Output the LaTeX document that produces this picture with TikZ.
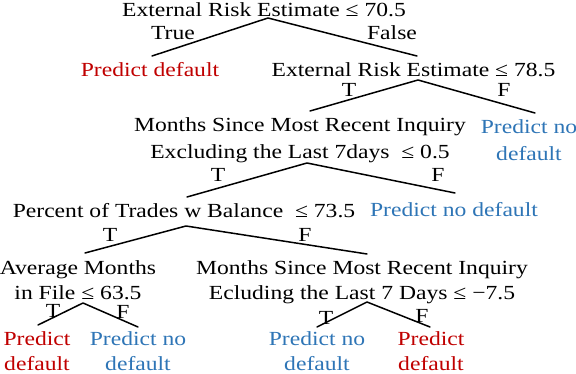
\documentclass[tikz,border=0pt]{standalone}
\usepackage{fontspec}
\setmainfont{Liberation Serif}[FakeStretch=1.18]
\definecolor{predred}{RGB}{192,0,0}
\definecolor{predblue}{RGB}{46,117,182}
\tikzset{
  split/.style={inner sep=0pt, align=center},
  leafyes/.style={split, text=predred},
  leafno/.style={split, text=predblue},
  tight/.style={font=\fontsize{20}{25}\selectfont},
  tf/.style={inner sep=0pt, anchor=base},
  branch/.style={line width=1.5pt}
}
\begin{document}
\begin{tikzpicture}[x=1pt, y=-1pt, font=\fontsize{20}{27}\selectfont, line join=round, line cap=round]
\useasboundingbox (0,0) rectangle (576,374);
% splits and leaves
\node[split, anchor=base] (root) at (264,17) {External Risk Estimate ≤ 70.5};
\node[leafyes, anchor=base] (pd1) at (150,77) {Predict default};
\node[split, anchor=base] (ext) at (413.5,77) {External Risk Estimate ≤ 78.5};
\node[split, anchor=north] (inq) at (300,117) {Months Since Most Recent Inquiry\\Excluding the Last 7days\ \ ≤ 0.5};
\node[leafno, anchor=north] (pn1) at (529,119) {Predict no\\default};
\node[split, anchor=base] (bal) at (184,218) {Percent of Trades w Balance\ \ ≤ 73.5};
\node[leafno, anchor=base] (pn2) at (454,217) {Predict no default};
\node[split, tight, anchor=north] (avg) at (78,260) {Average Months\\in File ≤ 63.5};
\node[split, tight, anchor=north] (inq7) at (362,260) {Months Since Most Recent Inquiry\\Ecluding the Last 7 Days ≤ −7.5};
\node[leafyes, tight, anchor=north] (pd2) at (37,331) {Predict\\default};
\node[leafno, tight, anchor=north] (pn3) at (138,331) {Predict no\\default};
\node[leafno, tight, anchor=north] (pn4) at (317,331) {Predict no\\default};
\node[leafyes, tight, anchor=north] (pd3) at (431,331) {Predict\\default};
% branches
\draw[branch] ([shift={(2,-21)}]pd1.base) -- ([shift={(4,1)}]root.base) -- ([shift={(3.5,-21)}]ext.base);
\draw[branch] ([shift={(10,-6)}]inq.north) -- ([shift={(4.5,3)}]ext.base) -- ([shift={(6,-6)}]pn1.north);
\draw[branch] ([shift={(3,-21)}]bal.base) -- ([shift={(7,46)}]inq.north) -- ([shift={(1,-24)}]pn2.base);
\draw[branch] ([shift={(7,-7)}]avg.north) -- ([shift={(2,8)}]bal.base) -- ([shift={(5,-6)}]inq7.north);
\draw[branch] ([shift={(1,-6)}]pd2.north) -- ([shift={(5,43)}]avg.north) -- ([shift={(0,-4)}]pn3.north);
\draw[branch] ([shift={(0,-4)}]pn4.north) -- ([shift={(5,42)}]inq7.north) -- ([shift={(-1,-4)}]pd3.north);
% true / false labels
\foreach \n/\x/\y/\t in {t1/173/40/True, f1/392/40/False, t2/349/97/T, f2/504/97/F,
  t3/218/182/T, f3/438/182/F, t4/110/242/T, f4/305/242/F,
  t5/53/318/T, f5/123/319/F, t6/326/324/T, f6/422/323/F}
  \node[tf] (\n) at (\x,\y) {\t};
\end{tikzpicture}
\end{document}
